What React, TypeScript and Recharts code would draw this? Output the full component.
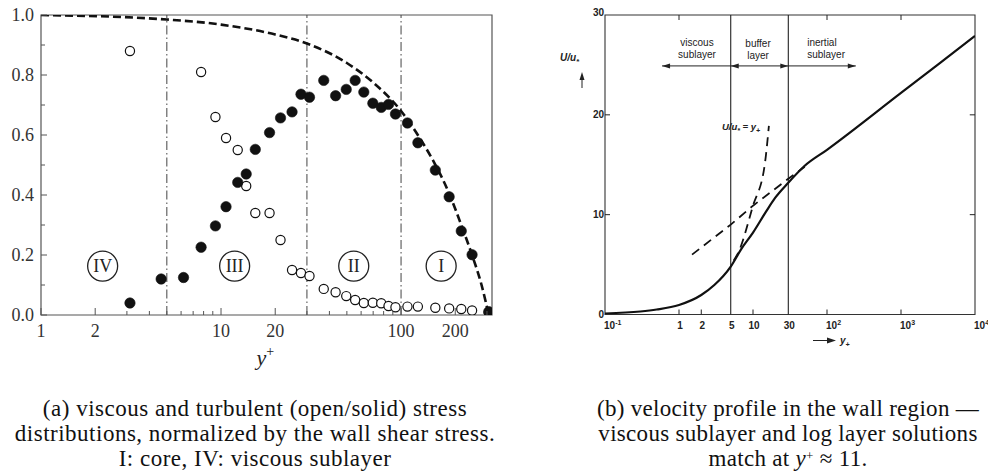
import React from "react";
import {
  ComposedChart,
  XAxis,
  YAxis,
  Line,
  Scatter,
  ReferenceLine,
  ReferenceArea,
  ReferenceDot,
} from "recharts";

const SERIF = "'Liberation Serif', 'Times New Roman', serif";
const SANS = "'Liberation Sans', Arial, sans-serif";

// ---- (a) stress distributions across the channel half-width ----
const yPlus = [
  3.12, 4.65, 6.19, 7.75, 9.31, 10.66, 12.38, 13.8, 15.5, 18.6, 21.4, 24.8, 27.8, 31.0, 37.2,
  43.3, 49.6, 55.6, 62.1, 69.7, 77.6, 85.2, 93.1, 108.5, 124, 155, 185, 216, 248, 307,
];
const viscousStress = [
  0.88, null, null, 0.81, 0.66, 0.59, 0.55, 0.43, 0.34, 0.34, 0.25, 0.15, 0.14, 0.13, 0.087,
  0.076, 0.063, 0.05, 0.04, 0.041, 0.039, 0.03, 0.026, 0.028, 0.028, 0.024, 0.022, 0.02, 0.015, 0.008,
];
const turbulentStress = [
  0.04, 0.12, 0.125, 0.226, 0.297, 0.361, 0.442, 0.47, 0.552, 0.608, 0.657, 0.677, 0.736, 0.726,
  0.782, 0.731, 0.752, 0.782, 0.743, 0.706, 0.692, 0.702, 0.67, 0.64, 0.574, 0.483, 0.394, 0.28,
  0.201, 0.011,
];
const totalX = [1, 5, 10, 20, 30, 50, 70, 100, 130, 150, 185, 216, 248, 280, 307];
const totalStress = [1.0, 0.985, 0.968, 0.935, 0.905, 0.84, 0.775, 0.68, 0.58, 0.517, 0.405, 0.3, 0.2, 0.1, 0.0];
const regionBounds = [5, 30, 100];
const regionNames = ["IV", "III", "II", "I"];
const regionX = [2.2, 11.9, 54.6, 167];
const aTicksX = [1, 2, 3, 4, 5, 6, 7, 8, 9, 10, 20, 30, 40, 50, 60, 70, 80, 90, 100, 200, 300];
const aLabelsX = [1, 2, 10, 20, 100, 200];
const aTicksY = [0, 0.1, 0.2, 0.3, 0.4, 0.5, 0.6, 0.7, 0.8, 0.9, 1.0];
const aLabelsY = [0, 0.2, 0.4, 0.6, 0.8, 1.0];

// ---- (b) mean velocity profile near the wall ----
const profileX = [0.1, 0.3, 0.5, 1, 2, 3, 5, 7, 10, 15, 20, 30, 50, 100, 1000, 10000];
const profileU = [0.1, 0.3, 0.5, 0.95, 1.95, 2.95, 4.8, 6.6, 8.2, 10.3, 11.7, 13.2, 14.9, 16.5, 22.2, 27.9];
const linearX = [5.5, 6.5, 10, 14.4, 16.4];
const linearU = [5.4, 6.4, 10.9, 15, 18.9];
const logX = [1.5, 5, 10, 30, 50];
const logU = [6.0, 9.0, 10.9, 13.6, 14.8];
const layerBounds = [5, 30];
const bTicksX = [0.1, 1, 2, 5, 10, 30, 100, 1000, 10000];
const bTickNames = ["10|-1", "1", "2", "5", "10", "30", "10|2", "10|3", "10|4"];
const bTicksY = [0, 10, 20, 30];

const rowsOf = (xs: number[], vs: (number | null)[]) =>
  xs.map((x, i) => ({ x, v: vs[i] })).filter((r) => r.v !== null);

const openRows = rowsOf(yPlus, viscousStress);
const solidRows = rowsOf(yPlus, turbulentStress);
const totalRows = rowsOf(totalX, totalStress);
const profileRows = rowsOf(profileX, profileU);
const linearRows = rowsOf(linearX, linearU);
const logRows = rowsOf(logX, logU);

function TickAX(props: any) {
  const { x, y, payload } = props;
  const major = aLabelsX.includes(payload.value);
  return (
    <g>
      <line x1={x} x2={x} y1={y} y2={y - (major ? 7 : 4)} stroke="#555" strokeWidth={1} />
      {major && (
        <text x={x} y={y + 22} textAnchor="middle" fontFamily={SERIF} fontSize={18} fill="#333">
          {payload.value}
        </text>
      )}
    </g>
  );
}

function TickAY(props: any) {
  const { x, y, payload } = props;
  const major = aLabelsY.includes(payload.value);
  return (
    <g>
      <line x1={x} x2={x + (major ? 6 : 4)} y1={y} y2={y} stroke="#555" strokeWidth={1} />
      {major && (
        <text x={x - 7} y={y + 6} textAnchor="end" fontFamily={SERIF} fontSize={18} fill="#333">
          {payload.value.toFixed(1)}
        </text>
      )}
    </g>
  );
}

function YPlusLabel(props: any) {
  const { x, width, y } = props.viewBox;
  return (
    <text x={x + width / 2 - 10} y={y + 50} fontFamily={SERIF} fontSize={22} fill="#222">
      <tspan fontStyle="italic">y</tspan>
      <tspan dy={-9} fontSize={14}>+</tspan>
    </text>
  );
}

function TickBX(props: any) {
  const { x, y, payload, index } = props;
  const name = bTickNames[index] ?? String(payload.value);
  const [base, exp] = name.split("|");
  const showLine = [1, 2, 10, 100, 1000].includes(payload.value);
  return (
    <g>
      {showLine && <line x1={x} x2={x} y1={y} y2={y - 5} stroke="#222" strokeWidth={1} />}
      <text
        x={exp ? x - 1 : x + 1}
        y={y + 14}
        textAnchor={exp ? "start" : "middle"}
        fontFamily={SANS}
        fontWeight={700}
        fontSize={10}
        fill="#222"
      >
        {base}
        {exp && (
          <tspan dy={-4} fontSize={7}>
            {exp}
          </tspan>
        )}
      </text>
    </g>
  );
}

function TickBY(props: any) {
  const { x, y, payload } = props;
  const inner = payload.value === 10 || payload.value === 20;
  return (
    <g>
      {inner && <line x1={x} x2={x + 5} y1={y} y2={y} stroke="#222" strokeWidth={1} />}
      <text x={x - 1} y={y + (payload.value === 30 ? 1 : 3)} textAnchor="end" fontFamily={SANS} fontWeight={700} fontSize={10} fill="#222">
        {payload.value}
      </text>
    </g>
  );
}

function ULabel(props: any) {
  const { x, y } = props.viewBox;
  const ax = x - 3;
  return (
    <g>
      <text x={x - 25} y={y + 46} fontFamily={SANS} fontWeight={700} fontStyle="italic" fontSize={10} fill="#222">
        U/u
        <tspan dy={3} fontSize={8}>*</tspan>
      </text>
      <line x1={ax} x2={ax} y1={y + 73} y2={y + 60} stroke="#222" strokeWidth={1} />
      <path d={`M${ax},${y + 57} L${ax - 2.5},${y + 65} L${ax + 2.5},${y + 65} Z`} fill="#222" />
    </g>
  );
}

function YPlusArrowLabel(props: any) {
  const { x, y } = props.viewBox;
  const ax = x + 208;
  const ay = y + 26;
  return (
    <g>
      <line x1={ax} x2={ax + 16} y1={ay} y2={ay} stroke="#222" strokeWidth={1} />
      <path d={`M${ax + 23},${ay} L${ax + 14},${ay - 3} L${ax + 14},${ay + 3} Z`} fill="#222" />
      <text x={ax + 27} y={ay + 3} fontFamily={SANS} fontWeight={700} fontStyle="italic" fontSize={10} fill="#222">
        y<tspan dy={3} fontSize={7}>+</tspan>
      </text>
    </g>
  );
}

const arrowShape = (headStart: boolean, headEnd: boolean) => (p: any) => {
  const { x1, y1, x2, y2 } = p;
  const head = (hx: number, hy: number, dir: number) => (
    <path d={`M${hx},${hy} L${hx - dir * 8},${hy - 2.5} L${hx - dir * 8},${hy + 2.5} Z`} fill="#222" />
  );
  return (
    <g>
      <line x1={x1} y1={y1} x2={x2} y2={y2} stroke="#222" strokeWidth={1} />
      {headStart && head(x1, y1, -1)}
      {headEnd && head(x2, y2, 1)}
    </g>
  );
};

const textShape = (lines: string[], anchor: "start" | "middle") => (p: any) => (
  <text x={p.cx} y={p.cy} textAnchor={anchor} fontFamily={SANS} fontSize={10} fill="#222">
    {lines.map((s, i) => (
      <tspan key={i} x={p.cx} dy={i === 0 ? 0 : 12}>
        {s}
      </tspan>
    ))}
  </text>
);

function StressChart() {
  return (
    <ComposedChart width={500} height={380} margin={{ top: 15, right: 8, bottom: 0, left: 0 }}>
      <XAxis
        dataKey="x"
        type="number"
        scale="log"
        domain={[1, 320]}
        allowDataOverflow
        ticks={aTicksX}
        interval={0}
        tick={(p: any) => <TickAX {...p} />}
        tickLine={false}
        axisLine={false}
        tickSize={0}
        tickMargin={0}
        height={65}
        label={<YPlusLabel />}
      />
      <YAxis
        type="number"
        domain={[0, 1]}
        allowDataOverflow
        ticks={aTicksY}
        interval={0}
        tick={(p: any) => <TickAY {...p} />}
        tickLine={false}
        axisLine={false}
        tickSize={0}
        tickMargin={0}
        width={41}
      />
      <ReferenceArea x1={1} x2={320} y1={0} y2={1} fill="none" stroke="#555" strokeWidth={1.2} ifOverflow="visible" />
      {regionBounds.map((b) => (
        <ReferenceLine key={b} x={b} stroke="#444" strokeWidth={1} strokeDasharray="9 3 1.5 3" />
      ))}
      {regionNames.map((name, i) => (
        <ReferenceDot
          key={name}
          x={regionX[i]}
          y={0.163}
          r={15}
          shape={(p: any) => (
            <g>
              <circle cx={p.cx} cy={p.cy} r={15} fill="#fff" stroke="#222" strokeWidth={1.3} />
              <text x={p.cx} y={p.cy + 6} textAnchor="middle" fontFamily={SERIF} fontSize={18} fill="#222">
                {name}
              </text>
            </g>
          )}
        />
      ))}
      <Line
        data={totalRows}
        dataKey="v"
        type="monotone"
        stroke="#111"
        strokeWidth={2.6}
        strokeDasharray="8 4"
        dot={false}
        isAnimationActive={false}
      />
      <Scatter
        data={openRows}
        dataKey="v"
        isAnimationActive={false}
        shape={(p: any) => <circle cx={p.cx} cy={p.cy} r={4.6} fill="#fff" stroke="#111" strokeWidth={1.2} />}
      />
      <Scatter
        data={solidRows}
        dataKey="v"
        isAnimationActive={false}
        shape={(p: any) => <circle cx={p.cx} cy={p.cy} r={5.2} fill="#111" stroke="#111" strokeWidth={0.6} />}
      />
    </ComposedChart>
  );
}

function VelocityChart() {
  return (
    <ComposedChart width={468} height={360} margin={{ top: 15, right: 13, bottom: 0, left: 65 }}>
      <XAxis
        dataKey="x"
        type="number"
        scale="log"
        domain={[0.1, 10000]}
        allowDataOverflow
        ticks={bTicksX}
        interval={0}
        tick={(p: any) => <TickBX {...p} />}
        tickLine={false}
        axisLine={false}
        tickSize={0}
        tickMargin={0}
        height={45.5}
        label={<YPlusArrowLabel />}
      />
      <YAxis
        type="number"
        domain={[0, 30]}
        allowDataOverflow
        ticks={bTicksY}
        interval={0}
        tick={(p: any) => <TickBY {...p} />}
        tickLine={false}
        axisLine={false}
        tickSize={0}
        tickMargin={0}
        width={20}
        label={<ULabel />}
      />
      <ReferenceArea x1={0.1} x2={10000} y1={0} y2={30} fill="none" stroke="#333" strokeWidth={1.1} ifOverflow="visible" />
      {layerBounds.map((b) => (
        <ReferenceLine key={b} x={b} stroke="#222" strokeWidth={1.1} />
      ))}
      {[1, 100, 1000].map((t) => (
        <ReferenceLine key={"t" + t} segment={[{ x: t, y: 30 }, { x: t, y: 29.5 }]} stroke="#222" strokeWidth={1} />
      ))}
      {[10, 20].map((t) => (
        <ReferenceLine key={"r" + t} segment={[{ x: 8500, y: t }, { x: 10000, y: t }]} stroke="#222" strokeWidth={1} />
      ))}
      <ReferenceLine segment={[{ x: 0.59, y: 24.9 }, { x: 5, y: 24.9 }]} shape={arrowShape(true, false)} />
      <ReferenceLine segment={[{ x: 5, y: 24.9 }, { x: 30, y: 24.9 }]} shape={arrowShape(true, true)} />
      <ReferenceLine segment={[{ x: 30, y: 24.9 }, { x: 245, y: 24.9 }]} shape={arrowShape(false, true)} />
      <ReferenceDot x={1.75} y={26.9} r={0} shape={textShape(["viscous", "sublayer"], "middle")} />
      <ReferenceDot x={11.7} y={26.8} r={0} shape={textShape(["buffer", "layer"], "middle")} />
      <ReferenceDot x={54} y={26.9} r={0} shape={textShape(["inertial", "sublayer"], "start")} />
      <ReferenceDot
        x={6.9}
        y={18.5}
        r={0}
        shape={(p: any) => (
          <text x={p.cx} y={p.cy} textAnchor="middle" fontFamily={SANS} fontWeight={700} fontStyle="italic" fontSize={9.5} fill="#222">
            U/u<tspan dy={3} fontSize={7}>*</tspan>
            <tspan dy={-3}> = y</tspan>
            <tspan dy={3} fontSize={7}>+</tspan>
          </text>
        )}
      />
      <Line
        data={linearRows}
        dataKey="v"
        type="monotone"
        stroke="#111"
        strokeWidth={1.8}
        strokeDasharray="9 6"
        dot={false}
        isAnimationActive={false}
      />
      <Line
        data={logRows}
        dataKey="v"
        type="linear"
        stroke="#111"
        strokeWidth={1.8}
        strokeDasharray="9 6"
        dot={false}
        isAnimationActive={false}
      />
      <Line
        data={profileRows}
        dataKey="v"
        type="monotone"
        stroke="#111"
        strokeWidth={2.2}
        dot={false}
        isAnimationActive={false}
      />
    </ComposedChart>
  );
}

const captionStyle: React.CSSProperties = {
  position: "absolute",
  textAlign: "center",
  fontFamily: SERIF,
  fontSize: 23,
  lineHeight: "25px",
  letterSpacing: 0.5,
  color: "#111",
  whiteSpace: "nowrap",
};

export default function App() {
  return (
    <div style={{ position: "absolute", left: 0, top: 0, width: 988, height: 471, background: "#fff", overflow: "hidden" }}>
      <div style={{ position: "absolute", left: 0, top: 0 }}>
        <StressChart />
      </div>
      <div style={{ position: "absolute", left: 520, top: 0 }}>
        <VelocityChart />
      </div>
      <div style={{ ...captionStyle, left: 0, top: 396, width: 510 }}>
        <div>(a) viscous and turbulent (open/solid) stress</div>
        <div>distributions, normalized by the wall shear stress.</div>
        <div>I: core, IV: viscous sublayer</div>
      </div>
      <div style={{ ...captionStyle, left: 588, top: 396, width: 400, letterSpacing: 0.3 }}>
        <div>(b) velocity profile in the wall region —</div>
        <div>viscous sublayer and log layer solutions</div>
        <div>
          match at <i>y</i>
          <span style={{ fontSize: 13, position: "relative", top: -6, lineHeight: 0 }}>+</span> ≈ 11.
        </div>
      </div>
    </div>
  );
}
